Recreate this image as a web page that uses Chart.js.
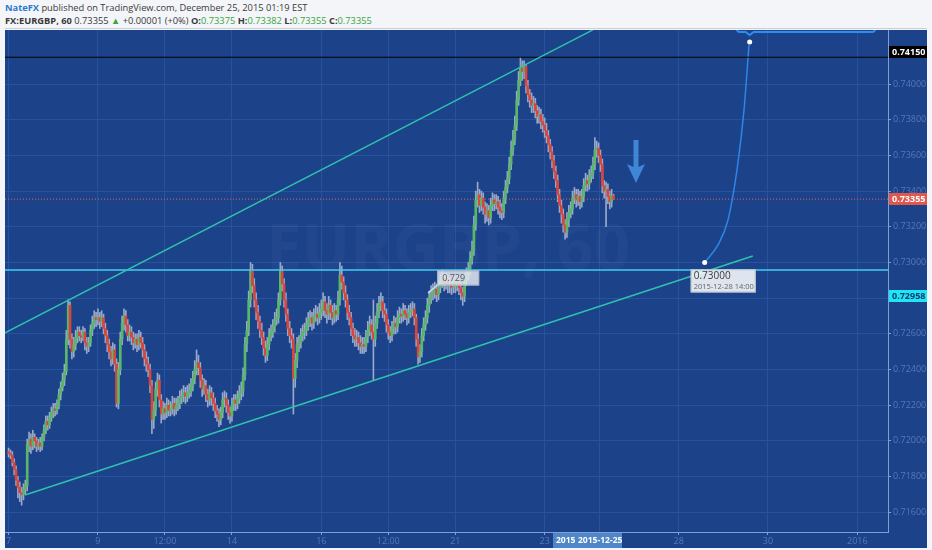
<!DOCTYPE html>
<html><head><meta charset="utf-8">
<script src="https://cdn.jsdelivr.net/npm/chart.js@4.4.0/dist/chart.umd.min.js"></script>
<style>
html,body{margin:0;padding:0;background:#f3f5f9;width:932px;height:550px;overflow:hidden;font-family:"Open Sans",sans-serif;}
.h{position:absolute;left:5px;white-space:nowrap;font-size:9.3px;color:#3a3a3a;line-height:13px;}
#h1{top:1px}
#h2{top:14px}
#sep{position:absolute;left:5px;top:28px;width:922px;height:1px;background:#c9ced8;}
.g{color:#3aa53a}
canvas{position:absolute;left:0;top:0}
</style></head><body>
<div class="h" id="h1"><b style="color:#2a7ad0">NateFX</b> published on TradingView.com, December 25, 2015 01:19 EST</div>
<div class="h" id="h2"><b>FX:EURGBP, 60</b> 0.73355 <span class="g">▲</span> +0.00001 (+0%) <b>O:</b><span class="g">0.73375</span> <b>H:</b><span class="g">0.73382</span> <b>L:</b><span class="g">0.73355</span> <b>C:</b><span class="g">0.73355</span></div>
<div id="sep"></div>
<canvas id="c" width="932" height="550"></canvas>
<script>
// ---- data (EURGBP hourly, Dec 7 - Dec 24 2015, x = trading day index, 24 candles per day) ----
const firstOpen = 0.7194;
const closes = [
0.7193,0.7192,0.7188,0.7184,0.7178,0.7174,0.7171,0.7170,0.7173,0.7175,0.7198,0.7201,0.7197,0.7202,0.7200,0.7197,0.7199,0.7197,0.7202,0.7206,0.7211,0.7209,0.7213,0.7216,
0.7218,0.7217,0.7220,0.7226,0.7230,0.7234,0.7239,0.7257,0.7276,0.7257,0.7250,0.7254,0.7258,0.7261,0.7259,0.7258,0.7261,0.7255,0.7253,0.7255,0.7262,0.7266,0.7269,0.7268,
0.7269,0.7267,0.7269,0.7263,0.7259,0.7254,0.7250,0.7246,0.7251,0.7243,0.7221,0.7240,0.7257,0.7266,0.7270,0.7265,0.7259,0.7261,0.7258,0.7255,0.7257,0.7254,0.7258,0.7255,
0.7251,0.7246,0.7243,0.7240,0.7231,0.7212,0.7217,0.7229,0.7234,0.7223,0.7215,0.7218,0.7216,0.7220,0.7217,0.7218,0.7221,0.7218,0.7220,0.7221,0.7224,0.7225,0.7227,0.7225,
0.7227,0.7228,0.7231,0.7235,0.7240,0.7244,0.7241,0.7234,0.7229,0.7231,0.7226,0.7223,0.7227,0.7224,0.7221,0.7217,0.7215,0.7212,0.7216,0.7223,0.7224,0.7220,0.7216,0.7214,
0.7220,0.7223,0.7221,0.7224,0.7227,0.7228,0.7237,0.7254,0.7262,0.7279,0.7296,0.7287,0.7279,0.7272,0.7267,0.7262,0.7258,0.7252,0.7248,0.7254,0.7259,0.7261,0.7264,0.7268,
0.7269,0.7279,0.7295,0.7288,0.7279,0.7271,0.7263,0.7259,0.7257,0.7235,0.7245,0.7254,0.7255,0.7259,0.7261,0.7262,0.7265,0.7268,0.7269,0.7266,0.7270,0.7271,0.7269,0.7272,
0.7274,0.7278,0.7273,0.7271,0.7276,0.7272,0.7269,0.7273,0.7271,0.7279,0.7293,0.7289,0.7283,0.7279,0.7272,0.7269,0.7263,0.7259,0.7257,0.7258,0.7255,0.7253,0.7254,0.7253,
0.7258,0.7262,0.7265,0.7261,0.7257,0.7266,0.7272,0.7276,0.7278,0.7273,0.7271,0.7265,0.7261,0.7259,0.7263,0.7266,0.7264,0.7269,0.7271,0.7270,0.7273,0.7271,0.7269,0.7272,
0.7273,0.7274,0.7269,0.7257,0.7247,0.7250,0.7259,0.7265,0.7269,0.7276,0.7280,0.7282,0.7283,0.7285,0.7282,0.7286,0.7289,0.7291,0.7288,0.7290,0.7287,0.7288,0.7286,0.7289,
0.7287,0.7289,0.7286,0.7283,0.7281,0.7290,0.7293,0.7296,0.7302,0.7307,0.7321,0.7335,0.7338,0.7332,0.7336,0.7331,0.7327,0.7329,0.7325,0.7332,0.7335,0.7333,0.7334,0.7331,
0.7329,0.7328,0.7336,0.7342,0.7347,0.7355,0.7363,0.7369,0.7377,0.7391,0.7402,0.7409,0.7407,0.7410,0.7399,0.7394,0.7391,0.7388,0.7389,0.7385,0.7382,0.7383,0.7379,0.7377,
0.7374,0.7371,0.7366,0.7362,0.7357,0.7351,0.7346,0.7338,0.7332,0.7327,0.7321,0.7317,0.7324,0.7328,0.7330,0.7336,0.7338,0.7335,0.7337,0.7334,0.7337,0.7343,0.7346,0.7344,
0.7348,0.7350,0.7355,0.7363,0.7364,0.7360,0.7355,0.7343,0.7340,0.7341,0.7337,0.7334,0.73375,0.73355];
const highs = [
0.7196,0.7195,0.7194,0.7190,0.7186,0.7180,0.7177,0.7174,0.7176,0.7178,0.7201,0.7205,0.7204,0.7206,0.7204,0.7202,0.7201,0.7202,0.7204,0.7209,0.7214,0.7214,0.7216,0.7219,
0.7221,0.7221,0.7223,0.7229,0.7233,0.7238,0.7243,0.7262,0.7279,0.7278,0.7260,0.7258,0.7262,0.7264,0.7264,0.7262,0.7264,0.7263,0.7258,0.7258,0.7265,0.7270,0.7273,0.7272,
0.7274,0.7272,0.7273,0.7271,0.7266,0.7262,0.7257,0.7253,0.7255,0.7254,0.7246,0.7244,0.7261,0.7270,0.7274,0.7273,0.7268,0.7265,0.7264,0.7261,0.7260,0.7260,0.7262,0.7261,
0.7258,0.7254,0.7250,0.7247,0.7243,0.7234,0.7222,0.7233,0.7238,0.7237,0.7226,0.7222,0.7221,0.7224,0.7223,0.7222,0.7225,0.7224,0.7224,0.7225,0.7228,0.7229,0.7231,0.7230,
0.7231,0.7232,0.7235,0.7239,0.7245,0.7251,0.7248,0.7244,0.7237,0.7235,0.7234,0.7229,0.7231,0.7230,0.7227,0.7224,0.7220,0.7218,0.7219,0.7227,0.7228,0.7227,0.7223,0.7219,
0.7224,0.7226,0.7226,0.7228,0.7231,0.7233,0.7241,0.7258,0.7267,0.7284,0.7300,0.7299,0.7291,0.7283,0.7276,0.7270,0.7266,0.7261,0.7256,0.7258,0.7263,0.7265,0.7268,0.7272,
0.7274,0.7283,0.7300,0.7298,0.7291,0.7283,0.7274,0.7267,0.7263,0.7260,0.7249,0.7258,0.7259,0.7263,0.7265,0.7266,0.7269,0.7272,0.7273,0.7272,0.7274,0.7276,0.7275,0.7277,
0.7279,0.7283,0.7281,0.7277,0.7281,0.7279,0.7276,0.7277,0.7276,0.7284,0.7300,0.7298,0.7292,0.7287,0.7282,0.7276,0.7272,0.7266,0.7263,0.7262,0.7261,0.7259,0.7258,0.7258,
0.7262,0.7267,0.7270,0.7268,0.7279,0.7270,0.7277,0.7281,0.7283,0.7281,0.7277,0.7274,0.7268,0.7264,0.7267,0.7270,0.7269,0.7273,0.7275,0.7274,0.7277,0.7276,0.7274,0.7276,
0.7277,0.7278,0.7277,0.7271,0.7260,0.7254,0.7263,0.7269,0.7273,0.7280,0.7284,0.7287,0.7288,0.7289,0.7288,0.7290,0.7293,0.7296,0.7294,0.7294,0.7293,0.7292,0.7291,0.7293,
0.7293,0.7293,0.7292,0.7289,0.7286,0.7294,0.7297,0.7300,0.7306,0.7312,0.7326,0.7340,0.7345,0.7341,0.7340,0.7339,0.7334,0.7333,0.7332,0.7336,0.7339,0.7338,0.7338,0.7337,
0.7335,0.7333,0.7340,0.7346,0.7351,0.7359,0.7368,0.7374,0.7382,0.7396,0.7407,0.7415,0.7413,0.7413,0.7411,0.7402,0.7397,0.7395,0.7393,0.7392,0.7388,0.7387,0.7386,0.7383,
0.7381,0.7378,0.7374,0.7369,0.7365,0.7360,0.7354,0.7349,0.7341,0.7335,0.7330,0.7324,0.7328,0.7332,0.7334,0.7340,0.7342,0.7341,0.7341,0.7340,0.7341,0.7347,0.7350,0.7349,
0.7352,0.7354,0.7359,0.7370,0.7368,0.7367,0.7363,0.7358,0.7346,0.7345,0.7344,0.7340,0.7341,0.73382];
const lows = [
0.7191,0.7190,0.7186,0.7181,0.7175,0.7168,0.7166,0.7164,0.7167,0.7170,0.7172,0.7194,0.7193,0.7195,0.7196,0.7194,0.7195,0.7194,0.7195,0.7200,0.7204,0.7206,0.7207,0.7211,
0.7213,0.7214,0.7215,0.7218,0.7223,0.7228,0.7231,0.7237,0.7254,0.7252,0.7246,0.7247,0.7251,0.7255,0.7256,0.7255,0.7256,0.7251,0.7249,0.7250,0.7253,0.7259,0.7263,0.7264,
0.7265,0.7263,0.7264,0.7260,0.7255,0.7250,0.7246,0.7242,0.7243,0.7239,0.7219,0.7218,0.7237,0.7254,0.7262,0.7261,0.7256,0.7256,0.7254,0.7251,0.7252,0.7250,0.7251,0.7252,
0.7247,0.7242,0.7239,0.7236,0.7227,0.7204,0.7207,0.7214,0.7225,0.7219,0.7210,0.7212,0.7212,0.7213,0.7214,0.7214,0.7215,0.7214,0.7215,0.7217,0.7218,0.7221,0.7222,0.7221,
0.7222,0.7224,0.7225,0.7228,0.7232,0.7237,0.7237,0.7230,0.7225,0.7226,0.7222,0.7219,0.7220,0.7220,0.7217,0.7213,0.7211,0.7208,0.7209,0.7213,0.7219,0.7216,0.7212,0.7210,
0.7211,0.7217,0.7217,0.7218,0.7221,0.7223,0.7225,0.7234,0.7250,0.7259,0.7275,0.7283,0.7275,0.7268,0.7263,0.7258,0.7254,0.7248,0.7244,0.7245,0.7251,0.7256,0.7258,0.7261,
0.7265,0.7266,0.7276,0.7284,0.7275,0.7267,0.7259,0.7255,0.7252,0.7215,0.7230,0.7241,0.7250,0.7252,0.7256,0.7257,0.7259,0.7262,0.7264,0.7262,0.7263,0.7267,0.7265,0.7266,
0.7268,0.7270,0.7269,0.7266,0.7268,0.7268,0.7265,0.7266,0.7267,0.7268,0.7276,0.7285,0.7279,0.7275,0.7268,0.7265,0.7259,0.7255,0.7253,0.7253,0.7251,0.7249,0.7249,0.7249,
0.7250,0.7255,0.7259,0.7257,0.7234,0.7253,0.7263,0.7269,0.7273,0.7269,0.7267,0.7261,0.7257,0.7255,0.7256,0.7260,0.7260,0.7261,0.7266,0.7266,0.7267,0.7268,0.7265,0.7266,
0.7269,0.7270,0.7265,0.7253,0.7243,0.7244,0.7247,0.7256,0.7262,0.7266,0.7272,0.7277,0.7279,0.7280,0.7278,0.7279,0.7283,0.7286,0.7284,0.7285,0.7283,0.7283,0.7282,0.7283,
0.7283,0.7284,0.7282,0.7279,0.7276,0.7278,0.7287,0.7290,0.7293,0.7299,0.7304,0.7318,0.7331,0.7328,0.7329,0.7327,0.7322,0.7323,0.7321,0.7322,0.7329,0.7329,0.7330,0.7327,
0.7325,0.7324,0.7325,0.7333,0.7339,0.7344,0.7352,0.7360,0.7366,0.7374,0.7388,0.7399,0.7402,0.7403,0.7395,0.7390,0.7387,0.7384,0.7384,0.7381,0.7378,0.7378,0.7375,0.7373,
0.7370,0.7367,0.7362,0.7358,0.7353,0.7347,0.7342,0.7334,0.7328,0.7322,0.7317,0.7313,0.7314,0.7320,0.7325,0.7327,0.7333,0.7331,0.7332,0.7330,0.7331,0.7334,0.7340,0.7340,
0.7341,0.7345,0.7347,0.7352,0.7359,0.7356,0.7351,0.7339,0.7336,0.7320,0.7333,0.7330,0.7331,0.73355];
const hoursPerDay = 24;

// axis ticks (x in trading days from Dec 7; weekends collapsed)
const xTickValues = [0, 2, 3.5, 5, 7, 8.5, 10, 12, 13.22, 15, 17, 19];
const xTickLabels = ['7', '9', '12:00', '14', '16', '12:00', '21', '23', '', '28', '30', '2016'];
const yTickValues = [0.716, 0.718, 0.720, 0.722, 0.724, 0.726, 0.728, 0.730, 0.732, 0.734, 0.736, 0.738, 0.740];
const xRange = [-0.0806, 19.687];
const yRange = [0.714896, 0.743026];

// drawings
const lastPrice = 0.73355;
const blackLevel = 0.7415;
const cyanLevel = 0.72958;
const upperTrend = [[-0.08, 0.72605], [13.08, 0.74303]];
const lowerTrend = [[0.367, 0.71697], [16.66, 0.73036]];
const projection = [[15.583, 0.73000], [15.88, 0.73098], [16.105, 0.73238], [16.306, 0.73518], [16.463, 0.73854], [16.575, 0.74219]];
const projTarget = [16.59, 0.74235];
const arrowAt = [14.045, 0.73686, 0.73445];

// ---- build ----
const BG = '#1c428a', GRID = '#27529f', AXIS = '#7f9fd6', TXT = '#5478bd';
const UP = '#58b868', DOWN = '#d9453a', WICK = '#9aa9c8';
const opens = closes.map((c, i) => i === 0 ? firstOpen : closes[i - 1]);
const wickData = closes.map((c, i) => ({x: i / hoursPerDay, y: [lows[i], highs[i]]}));
const bodyData = closes.map((c, i) => ({x: i / hoursPerDay, y: [opens[i], c]}));
const bodyColors = closes.map((c, i) => c >= opens[i] ? UP : DOWN);
const pts = a => a.map(p => ({x: p[0], y: p[1]}));
const hline = v => [{x: xRange[0], y: v}, {x: xRange[1], y: v}];

const bgPlugin = {
  id: 'bg',
  beforeDraw(chart) {
    const ctx = chart.ctx;
    ctx.save(); ctx.fillStyle = BG; ctx.fillRect(5, 30, 922, 518); ctx.restore();
  },
  beforeDatasetsDraw(chart) {
    const ctx = chart.ctx;
    ctx.save();
    ctx.font = 'bold 64px "Open Sans"'; ctx.textAlign = 'center'; ctx.textBaseline = 'middle';
    ctx.fillStyle = 'rgba(255,255,255,0.03)';
    ctx.fillText('EURGBP, 60', 448, 252);
    ctx.restore();
  }
};

const annPlugin = {
  id: 'ann',
  afterDatasetsDraw(chart) {
    const ctx = chart.ctx, xs = chart.scales.x, ys = chart.scales.y, a = chart.chartArea;
    const X = v => xs.getPixelForValue(v), Y = v => ys.getPixelForValue(v);
    ctx.save();
    ctx.beginPath(); ctx.rect(a.left, a.top, a.right - a.left, a.bottom - a.top); ctx.clip();
    // down arrow
    const ax = X(arrowAt[0]), at = Y(arrowAt[1]), ab = Y(arrowAt[2]);
    ctx.fillStyle = '#3f86d6';
    ctx.beginPath();
    ctx.moveTo(ax - 2.5, at); ctx.lineTo(ax + 2.5, at); ctx.lineTo(ax + 2.5, ab - 16);
    ctx.lineTo(ax + 9, ab - 19); ctx.lineTo(ax, ab); ctx.lineTo(ax - 9, ab - 19); ctx.lineTo(ax - 2.5, ab - 16);
    ctx.closePath(); ctx.fill();
    // callout box at top (target)
    const cx0 = X(16.306), cx1 = X(19.395), cyb = Y(0.74291);
    ctx.strokeStyle = '#2f8cf0'; ctx.lineWidth = 2;
    ctx.beginPath();
    ctx.moveTo(cx0, cyb - 20); ctx.lineTo(cx0, cyb - 3); ctx.quadraticCurveTo(cx0, cyb, cx0 + 3, cyb);
    ctx.lineTo(X(projTarget[0]) - 4, cyb); ctx.lineTo(X(projTarget[0]), cyb + 3); ctx.lineTo(X(projTarget[0]) + 4, cyb);
    ctx.lineTo(cx1 - 3, cyb); ctx.quadraticCurveTo(cx1, cyb, cx1, cyb - 3); ctx.lineTo(cx1, cyb - 20);
    ctx.stroke();
    // dots
    const dot = (x, y) => { ctx.beginPath(); ctx.arc(x, y, 2.5, 0, Math.PI * 2); ctx.fillStyle = '#ffffff'; ctx.fill(); };
    dot(X(projection[0][0]), Y(projection[0][1]));
    dot(X(projTarget[0]), Y(projTarget[1]));
    // tooltip of the projection start
    const tx = X(projection[0][0]) - 14, ty = Y(projection[0][1]) + 7;
    ctx.fillStyle = 'rgba(245,247,250,0.9)'; ctx.strokeStyle = '#b9c2cf'; ctx.lineWidth = 1;
    ctx.fillRect(tx, ty, 65, 23); ctx.strokeRect(tx + 0.5, ty + 0.5, 64, 22);
    ctx.fillStyle = '#3a3a3a'; ctx.textAlign = 'left'; ctx.textBaseline = 'middle';
    ctx.font = '10px "Open Sans"'; ctx.fillText('0.73000', tx + 3, ty + 7);
    ctx.font = '7.5px "Open Sans"'; ctx.fillStyle = '#666'; ctx.fillText('2015-12-28 14:00', tx + 3, ty + 17);
    // small price label in the channel
    ctx.strokeStyle = 'rgba(235,240,245,0.8)'; ctx.lineWidth = 1.5;
    ctx.beginPath(); ctx.moveTo(X(9.389), Y(0.72829)); ctx.lineTo(X(9.658), Y(0.72885)); ctx.stroke();
    const lx = X(9.595), ly = Y(0.72955);
    ctx.fillStyle = 'rgba(225,230,238,0.85)'; ctx.fillRect(lx, ly, 42, 15);
    ctx.strokeStyle = '#aab4c4'; ctx.lineWidth = 1; ctx.strokeRect(lx + 0.5, ly + 0.5, 41, 14);
    ctx.fillStyle = '#555'; ctx.font = '9px "Open Sans"'; ctx.fillText('0.729', lx + 5, ly + 8);
    ctx.restore();
  },
  afterDraw(chart) {
    const ctx = chart.ctx, ys = chart.scales.y;
    const Y = v => ys.getPixelForValue(v);
    const tag = (y, text, bg, fg) => {
      ctx.fillStyle = bg; ctx.fillRect(889, Math.round(y) - 6, 38, 12);
      ctx.fillStyle = fg; ctx.font = 'bold 9px "Open Sans"'; ctx.textAlign = 'left'; ctx.textBaseline = 'middle';
      ctx.fillText(text, 892, Math.round(y) + 0.5);
    };
    ctx.save();
    tag(Y(blackLevel) - 5, blackLevel.toFixed(5), '#000000', '#ffffff');
    tag(Y(lastPrice), lastPrice.toFixed(5), '#e2574c', '#ffffff');
    tag(Y(cyanLevel) + 26, cyanLevel.toFixed(5), '#1ee6f5', '#153a70');
    // x-axis highlighted date label
    ctx.fillStyle = '#4f86c8'; ctx.fillRect(553, 533, 69, 15);
    ctx.fillStyle = '#ffffff'; ctx.font = 'bold 8.5px "Open Sans"'; ctx.textAlign = 'left'; ctx.textBaseline = 'middle';
    ctx.fillText('2015', 556, 541); ctx.fillText('2015-12-25', 578, 541);
    ctx.restore();
  }
};

new Chart(document.getElementById('c'), {
  type: 'bar',
  data: {
    datasets: [
      {type: 'line', data: pts(upperTrend), borderColor: '#2fc2ad', borderWidth: 1.5, pointRadius: 0, order: 1},
      {type: 'line', data: pts(lowerTrend), borderColor: '#2fc2ad', borderWidth: 1.5, pointRadius: 0, order: 1},
      {type: 'line', data: hline(cyanLevel), borderColor: '#45cdf2', borderWidth: 1.5, pointRadius: 0, order: 1},
      {type: 'line', data: hline(blackLevel), borderColor: '#000000', borderWidth: 1, pointRadius: 0, order: 1},
      {type: 'line', data: hline(lastPrice), borderColor: '#e2675a', borderWidth: 1, borderDash: [1, 2], pointRadius: 0, order: 1},
      {type: 'line', data: pts(projection), borderColor: '#2e86e6', borderWidth: 1.5, pointRadius: 0, cubicInterpolationMode: 'monotone', order: 1},
      {data: bodyData, backgroundColor: bodyColors, barThickness: 2, minBarLength: 1, grouped: false, order: 2},
      {data: wickData, backgroundColor: WICK, barThickness: 1, grouped: false, order: 3}
    ]
  },
  options: {
    responsive: false, animation: false, devicePixelRatio: 1,
    layout: {padding: {left: 5, top: 30, right: 5, bottom: 2}},
    plugins: {legend: {display: false}, tooltip: {enabled: false}},
    events: [],
    scales: {
      x: {
        type: 'linear', min: xRange[0], max: xRange[1], offset: false,
        grid: {color: GRID, offset: false, tickLength: 3, tickColor: AXIS},
        border: {color: AXIS},
        afterBuildTicks: s => { s.ticks = xTickValues.map(v => ({value: v})); },
        afterFit: s => { s.height = 16; },
        ticks: {color: TXT, font: {size: 9, family: '"Open Sans"'}, maxRotation: 0, autoSkip: false, padding: 1,
          callback: (v, i) => xTickLabels[i]}
      },
      y: {
        type: 'linear', position: 'right', min: yRange[0], max: yRange[1], beginAtZero: false,
        grid: {color: GRID, tickLength: 3, tickColor: AXIS},
        border: {color: AXIS},
        afterBuildTicks: s => { s.ticks = yTickValues.map(v => ({value: v})); },
        afterFit: s => { s.width = 39; },
        ticks: {color: TXT, font: {size: 9, family: '"Open Sans"'}, padding: 2, callback: v => v.toFixed(5)}
      }
    }
  },
  plugins: [bgPlugin, annPlugin]
});
</script>
</body></html>
